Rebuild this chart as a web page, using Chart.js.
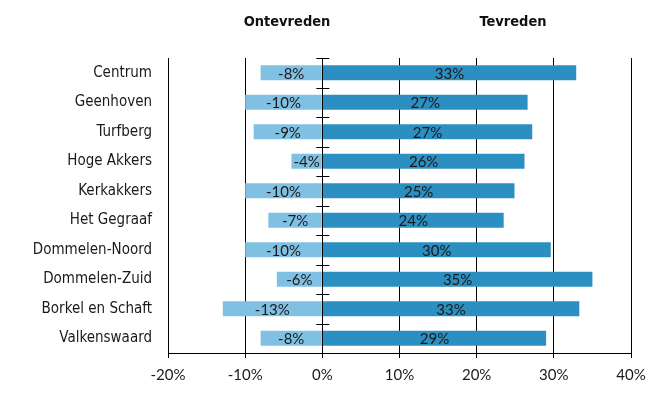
<!DOCTYPE html>
<html lang="nl">

<head>
  <meta charset="UTF-8">
  <title>Ontevreden / Tevreden per wijk</title>
  <style>
    body {
      margin: 0;
      background-color: #fff;
    }

    .wrap {
      position: relative;
      width: 661px;
      height: 406px;
    }

    .header {
      position: absolute;
      top: 13px;
      font-family: 'DejaVu Sans Condensed', 'DejaVu Sans', sans-serif;
      font-weight: bold;
      font-size: 14.5px;
      color: #111;
      transform: translateX(-50%);
      white-space: nowrap;
    }
  </style>
  <script src="https://cdn.jsdelivr.net/npm/chart.js"></script>
</head>

<body>
  <div class="wrap">
    <canvas id="chart" width="661" height="406"></canvas>
    <div class="header" style="left: 287px;">Ontevreden</div>
    <div class="header" style="left: 513px;">Tevreden</div>
  </div>

  <script>
    // data
    const wijken = ['Centrum', 'Geenhoven', 'Turfberg', 'Hoge Akkers', 'Kerkakkers', 'Het Gegraaf',
      'Dommelen-Noord', 'Dommelen-Zuid', 'Borkel en Schaft', 'Valkenswaard'];
    const ontevreden = [-8, -10, -8.9, -4, -10, -7, -10, -5.9, -12.9, -8];
    const tevreden = [32.9, 26.6, 27.2, 26.2, 24.9, 23.5, 29.6, 35.0, 33.3, 29.0];
    const xTicks = [-20, -10, 0, 10, 20, 30, 40];

    // labels in the middle of each bar
    const barLabels = {
      id: 'barLabels',
      afterDatasetsDraw(chart) {
        const ctx = chart.ctx;
        ctx.save();
        ctx.font = '15px Lato';
        ctx.fillStyle = '#1a1a1a';
        ctx.textAlign = 'center';
        ctx.textBaseline = 'middle';
        chart.data.datasets.forEach((ds, i) => {
          chart.getDatasetMeta(i).data.forEach((bar, j) => {
            const p = bar.getProps(['x', 'y', 'base'], true);
            ctx.fillText(Math.round(ds.data[j]) + '%', (p.x + p.base) / 2, p.y + 1);
          });
        });
        ctx.restore();
      }
    };

    // small ticks crossing the 0 line between the categories
    const zeroTicks = {
      id: 'zeroTicks',
      afterDraw(chart) {
        const ctx = chart.ctx;
        const x0 = chart.scales.x.getPixelForValue(0);
        const y = chart.scales.y;
        ctx.save();
        ctx.strokeStyle = '#000';
        ctx.lineWidth = 1;
        ctx.beginPath();
        ctx.moveTo(Math.round(x0) + 0.5, chart.chartArea.top);
        ctx.lineTo(Math.round(x0) + 0.5, chart.chartArea.bottom);
        for (let i = 0; i < wijken.length; i++) {
          const yy = Math.round(y.getPixelForValue(i) - (y.getPixelForValue(1) - y.getPixelForValue(0)) / 2) + 0.5;
          ctx.moveTo(x0 - 6, yy);
          ctx.lineTo(x0 + 7, yy);
        }
        ctx.stroke();
        ctx.restore();
      }
    };

    new Chart(document.getElementById('chart'), {
      type: 'bar',
      data: {
        labels: wijken,
        datasets: [{
          label: 'Ontevreden',
          data: ontevreden,
          backgroundColor: '#80c1e3',
          barPercentage: 0.51,
          categoryPercentage: 1
        }, {
          label: 'Tevreden',
          data: tevreden,
          backgroundColor: '#2b8fc1',
          barPercentage: 0.51,
          categoryPercentage: 1
        }]
      },
      options: {
        indexAxis: 'y',
        responsive: false,
        animation: false,
        layout: {
          padding: { left: 0, right: 30, top: 58, bottom: 0 }
        },
        plugins: {
          legend: { display: false },
          tooltip: { enabled: false }
        },
        scales: {
          x: {
            stacked: true,
            min: xTicks[0],
            max: xTicks[xTicks.length - 1],
            afterBuildTicks: (axis) => {
              axis.ticks = xTicks.map(v => ({ value: v }));
            },
            afterFit: (axis) => {
              axis.height = 53;
            },
            grid: {
              color: '#000',
              lineWidth: 1,
              tickLength: 5
            },
            border: { display: true, color: '#000' },
            ticks: {
              padding: 8,
              color: '#1a1a1a',
              font: { family: 'Lato', size: 15 },
              callback: v => v + '%'
            }
          },
          y: {
            stacked: true,
            afterFit: (axis) => {
              axis.width = 168;
            },
            grid: { display: false },
            border: { display: false },
            ticks: {
              padding: 8,
              color: '#1a1a1a',
              font: { family: 'DejaVu Sans Condensed', size: 15 }
            }
          }
        }
      },
      plugins: [barLabels, zeroTicks]
    });
  </script>
</body>

</html>
